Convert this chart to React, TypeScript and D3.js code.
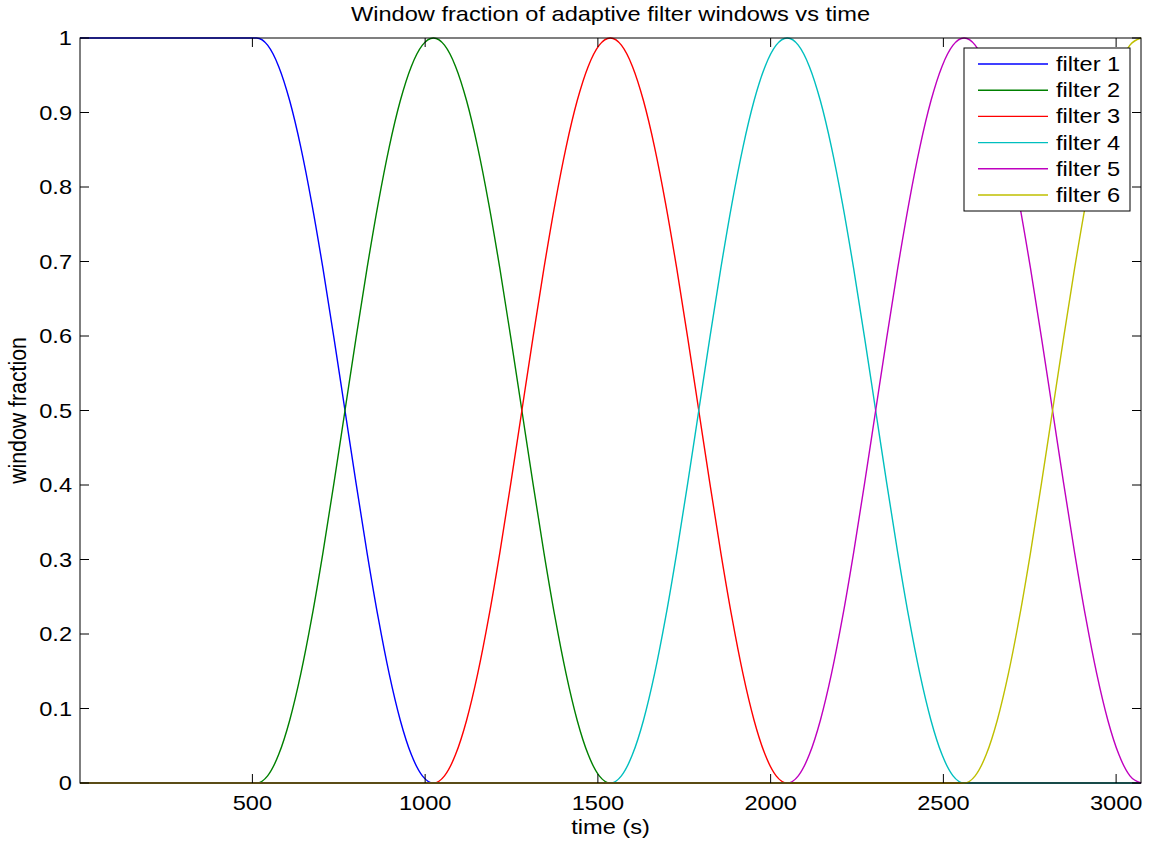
import React, { useEffect, useRef } from "react";
import * as d3 from "d3";

// window data
const filterNames = ["filter 1", "filter 2", "filter 3", "filter 4", "filter 5", "filter 6"];
const filterColors = ["#0000ff", "#008000", "#ff0000", "#00bfbf", "#bf00bf", "#bfbf00"];
const riseStart = [1, 512, 1024, 1536, 2048, 2560];
const peakTime = [512, 1024, 1536, 2048, 2560, 3072];
const fallEnd = [1024, 1536, 2048, 2560, 3072, 3584];
// half-window taper, sampled every 32 s
const taperStep = 32;
const taper = [0, 0.0096, 0.0381, 0.0843, 0.1464, 0.2222, 0.3087, 0.4025, 0.5,
    0.5975, 0.6913, 0.7778, 0.8536, 0.9157, 0.9619, 0.9904, 1];
const xTicks = [500, 1000, 1500, 2000, 2500, 3000];
const yTicks = [0, 0.1, 0.2, 0.3, 0.4, 0.5, 0.6, 0.7, 0.8, 0.9, 1];
const tMin = 1, tMax = 3072;

const FONT = "'Liberation Sans', Arial, Helvetica, sans-serif";
const FS = 20;
const STRETCH = 1.18;

function buildSeries(i: number): [number, number][] {
    let pts: [number, number][] = [];
    if (i === 0) {
        pts.push([tMin, 1]);
    } else {
        pts.push([tMin, 0]);
        taper.forEach((v, k) => pts.push([riseStart[i] + k * taperStep, v]));
    }
    taper.forEach((v, k) => {
        if (k > 0 || i === 0) pts.push([peakTime[i] + k * taperStep, taper[taper.length - 1 - k]]);
    });
    pts = pts.filter(p => p[0] <= tMax);
    if (fallEnd[i] < tMax) pts.push([tMax, 0]);
    return pts;
}

export default function App() {
    const ref = useRef<SVGSVGElement>(null);

    useEffect(() => {
        const width = 1153, height = 841;
        const left = 80, right = 1141, top = 38, bottom = 783;
        const svg = d3.select(ref.current);
        svg.selectAll("*").remove();

        const x = d3.scaleLinear().domain([tMin, tMax]).range([left, right]);
        const y = d3.scaleLinear().domain([0, 1]).range([bottom, top]);

        svg.append("rect").attr("width", width).attr("height", height).attr("fill", "#fff");

        const line = d3.line<[number, number]>()
            .x(d => x(d[0]))
            .y(d => y(d[1]))
            .curve(d3.curveMonotoneX);

        const plot = svg.append("g");
        filterNames.forEach((name, i) => {
            plot.append("path")
                .datum(buildSeries(i))
                .attr("fill", "none")
                .attr("stroke", filterColors[i])
                .attr("stroke-width", 1.4)
                .attr("d", line);
        });

        // box
        svg.append("rect")
            .attr("x", left).attr("y", top)
            .attr("width", right - left).attr("height", bottom - top)
            .attr("fill", "none").attr("stroke", "#000").attr("stroke-width", 1);

        const tickLen = 9;
        const axes = svg.append("g").attr("stroke", "#000").attr("stroke-width", 1);
        xTicks.forEach(t => {
            axes.append("line").attr("x1", x(t)).attr("x2", x(t)).attr("y1", bottom).attr("y2", bottom - tickLen);
            axes.append("line").attr("x1", x(t)).attr("x2", x(t)).attr("y1", top).attr("y2", top + tickLen);
        });
        yTicks.forEach(t => {
            axes.append("line").attr("x1", left).attr("x2", left + tickLen).attr("y1", y(t)).attr("y2", y(t));
            axes.append("line").attr("x1", right).attr("x2", right - tickLen).attr("y1", y(t)).attr("y2", y(t));
        });

        // the picture is stretched sideways, so text gets a horizontal stretch
        const labels = svg.append("g").attr("font-family", FONT).attr("font-size", FS).attr("fill", "#000");
        const put = (px: number, py: number, txt: string, anchor: string, dy = "0") =>
            labels.append("text")
                .attr("transform", `translate(${px},${py}) scale(${STRETCH},1)`)
                .attr("dy", dy)
                .attr("text-anchor", anchor)
                .text(txt);

        xTicks.forEach(t => put(x(t), 810, String(t), "middle"));
        yTicks.forEach(t => put(72, y(t), d3.format("~g")(t), "end", "0.35em"));

        put((left + right) / 2, 21, "Window fraction of adaptive filter windows vs time", "middle");
        put((left + right) / 2, 834, "time (s)", "middle");
        labels.append("text")
            .attr("transform", `translate(26,${(top + bottom) / 2}) rotate(-90) scale(1.065,${STRETCH})`)
            .attr("text-anchor", "middle")
            .text("window fraction");

        // legend
        const lg = svg.append("g").attr("transform", "translate(964,48)");
        lg.append("rect").attr("width", 166).attr("height", 163)
            .attr("fill", "#fff").attr("stroke", "#000").attr("stroke-width", 1);
        filterNames.forEach((name, i) => {
            const yy = 16 + i * 26.2;
            lg.append("line").attr("x1", 14).attr("x2", 84).attr("y1", yy).attr("y2", yy)
                .attr("stroke", filterColors[i]).attr("stroke-width", 1.4);
            lg.append("text")
                .attr("transform", `translate(92,${yy}) scale(${STRETCH},1)`)
                .attr("dy", "0.35em")
                .attr("font-family", FONT).attr("font-size", FS).text(name);
        });
    }, []);

    return (
        <svg ref={ref} width={1153} height={841}
            style={{ position: "absolute", left: 0, top: 0, display: "block" }} />
    );
}
